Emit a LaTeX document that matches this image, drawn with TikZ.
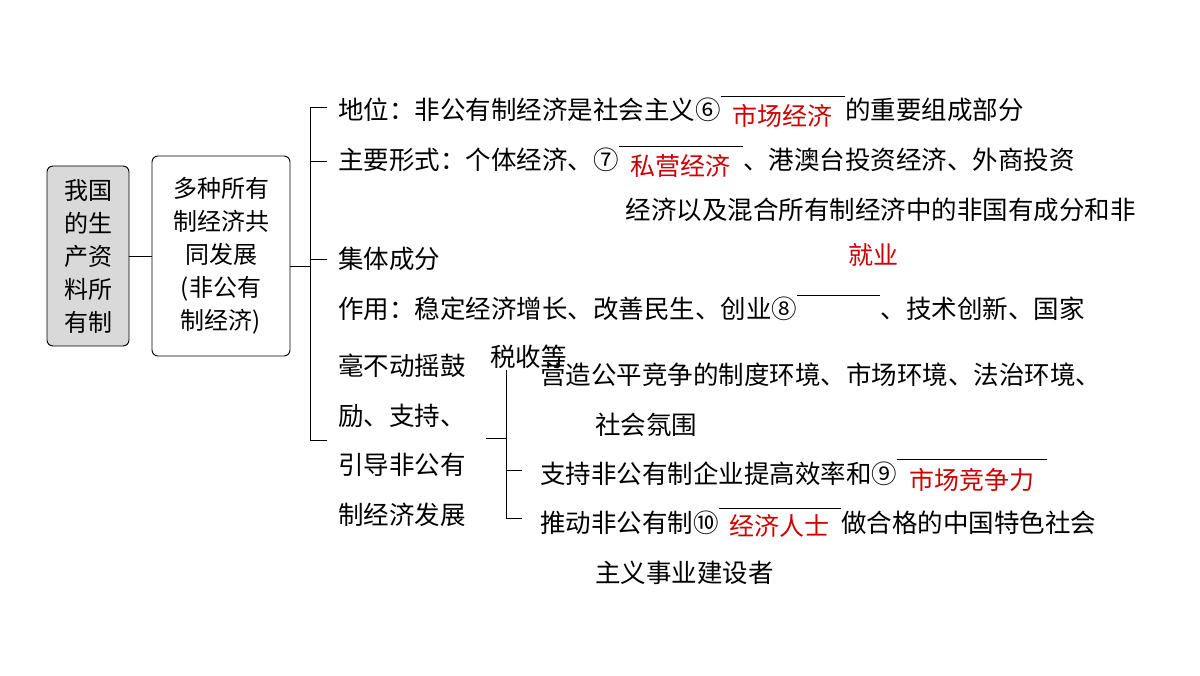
\documentclass[tikz,border=0pt]{standalone}
\usepackage{fontspec}
\setmainfont{Noto Sans CJK SC}
\tikzset{
 txt/.style={anchor=west,inner sep=0pt,font=\fontsize{25.5}{30}\selectfont},
 ans/.style={inner sep=0pt,text=red!80!black,font=\fontsize{25}{30}\selectfont},
 box/.style={draw,rounded corners=6pt,line width=0.9pt,align=center,font=\fontsize{24}{33}\selectfont,inner sep=3pt},
 ln/.style={line width=0.9pt},
 ul/.style={line width=0.8pt}
}
\begin{document}
\begin{tikzpicture}[x=1pt,y=-1pt]
\useasboundingbox[fill=white] (0,0) rectangle (1200,676);
\node[box,fill=gray!30,minimum width=82pt,minimum height=180pt] (b1) at (88,256) {我国\\的生\\产资\\料所\\有制};
\node[box,minimum width=138pt,minimum height=200pt] (b2) at (221,256) {多种所有\\制经济共\\同发展\\(非公有\\制经济)};
\draw[ln] (b1.east) -- (b2.east -| b2.west);
\coordinate (j) at (310,266);
\coordinate (t1) at (310,107); \coordinate (t4) at (310,440);
\draw[ln] (b2.east |- j) -- (j);
\draw[ln] (327,107) -- (t1) -- (t4) -- (327,440);
\draw[ln] (310,161) -- (327,161);
\draw[ln] (310,259) -- (327,259);
% line 1
\node[txt] (l1) at (338,110) {地位：非公有制经济是社会主义⑥};
\coordinate (u1a) at ([yshift=14pt]l1.east); \coordinate (u1b) at ([xshift=124pt]u1a);
\draw[ul] (u1a) -- (u1b);
\node[txt] (l1b) at (u1b |- l1) {的重要组成部分};
\node[ans] (a6) at ([xshift=62pt,yshift=-20pt]u1a) {市场经济};
% line 2
\node[txt] (l2) at (338,160) {主要形式：个体经济、⑦};
\coordinate (u2a) at ([yshift=14pt]l2.east); \coordinate (u2b) at ([xshift=124pt]u2a);
\draw[ul] (u2a) -- (u2b);
\node[txt] (l2b) at (u2b |- l2) {、港澳台投资经济、外商投资};
\node[ans] (a7) at ([xshift=62pt,yshift=-20pt]u2a) {私营经济};
\node[txt,anchor=east] (l3) at (1136,210) {经济以及混合所有制经济中的非国有成分和非};
\node[ans] (a8) at (873,255) {就业};
\node[txt] (l4) at (338,259) {集体成分};
% line 5
\node[txt] (l5) at (338,309) {作用：稳定经济增长、改善民生、创业⑧};
\coordinate (u5a) at ([yshift=14pt]l5.east); \coordinate (u5b) at ([xshift=83pt]u5a);
\draw[ul] (u5a) -- (u5b);
\node[txt] (l5b) at (u5b |- l5) {、技术创新、国家};
\node[txt,align=left,font=\fontsize{25.5}{49.5}\selectfont] (l6) at (338,440) {毫不动摇鼓\\励、支持、\\引导非公有\\制经济发展};
\node[txt] (tax) at (490,357) {税收等};
\coordinate (k) at (506,438);
\draw[ln] (486,438) -- (k);
\draw[ln] (506,370) -- (506,518) -- (522,518);
\draw[ln] (506,470) -- (522,470);
\node[txt] (m1) at (540,375) {营造公平竞争的制度环境、市场环境、法治环境、};
\node[txt] (m2) at (595,425) {社会氛围};
\node[txt] (m3) at (540,474) {支持非公有制企业提高效率和⑨};
\coordinate (u9a) at ([yshift=15pt]m3.east); \coordinate (u9b) at ([xshift=150pt]u9a);
\draw[ul] (u9a) -- (u9b);
\node[ans] (a9) at ([xshift=75pt,yshift=-21pt]u9a) {市场竞争力};
\node[txt] (m4) at (540,523) {推动非公有制⑩};
\coordinate (u10a) at ([yshift=15pt]m4.east); \coordinate (u10b) at ([xshift=122pt]u10a);
\draw[ul] (u10a) -- (u10b);
\node[txt] (m4b) at (u10b |- m4) {做合格的中国特色社会};
\node[ans] (a10) at ([xshift=61pt,yshift=-18pt]u10a) {经济人士};
\node[txt] (m5) at (595,573) {主义事业建设者};
\end{tikzpicture}
\end{document}
